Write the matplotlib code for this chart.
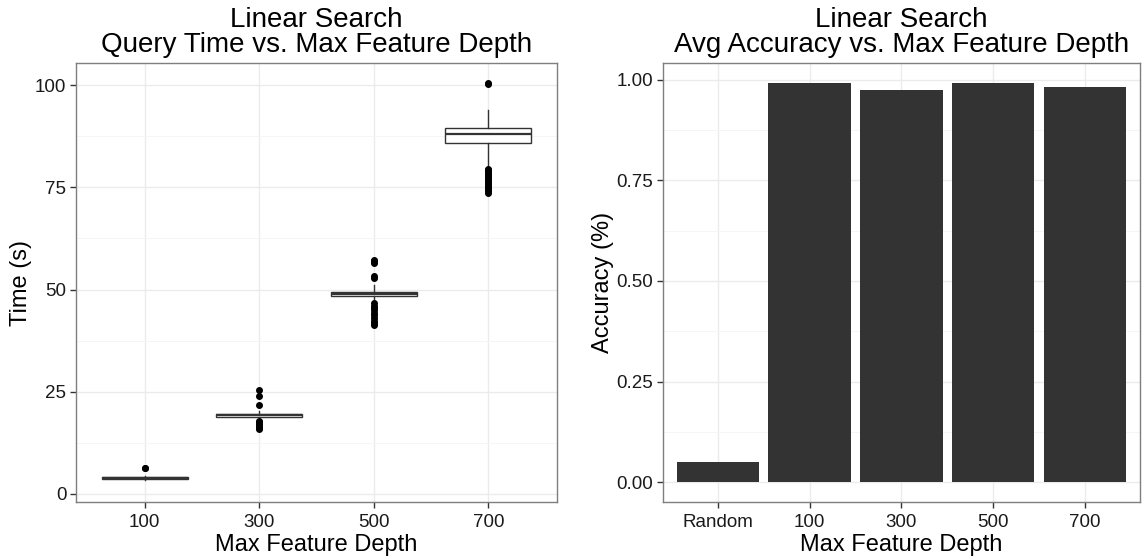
import numpy as np
import matplotlib.pyplot as plt
from matplotlib.ticker import MultipleLocator

plt.rcParams['font.family'] = ['Liberation Sans', 'DejaVu Sans']

# query time box stats per depth
depths = ["100", "300", "500", "700"]
med = [3.9, 19.2, 49.0, 88.0]
q1 = [3.7, 18.9, 48.3, 85.8]
q3 = [4.1, 19.6, 49.5, 89.5]
wlo = [3.5, 18.2, 47.0, 80.0]
whi = [4.4, 20.2, 51.0, 93.9]
fliers = [
    [6.2, 6.4],
    [25.5, 24.0, 21.8, 17.9, 17.5, 17.0, 16.6, 16.2, 15.9],
    [57.3, 56.9, 56.5, 53.2, 52.7, 46.6, 46.0, 45.5, 45.0, 44.3, 43.8, 43.0, 42.4, 41.8, 41.2],
    [100.5, 100.2, 79.6, 79.2, 78.8, 78.4, 78.0, 77.6, 77.2, 76.8, 76.4, 76.0,
     75.6, 75.2, 74.8, 74.4, 74.0, 73.6],
]

# accuracy per depth
acc_labels = ["Random", "100", "300", "500", "700"]
accuracy = [0.051, 0.992, 0.975, 0.992, 0.982]

fig = plt.figure(figsize=(11.48, 5.59), dpi=100)
ax1 = fig.add_axes([0.0662, 0.102, 0.419, 0.785])
ax2 = fig.add_axes([0.5775, 0.102, 0.4155, 0.785])

for ax in (ax1, ax2):
    ax.set_axisbelow(True)
    ax.grid(True, which="major", color="#EBEBEB", lw=1.0)
    ax.grid(True, which="minor", color="#F4F4F4", lw=0.6)
    for s in ax.spines.values():
        s.set_color("#7F7F7F")
        s.set_linewidth(1.0)
    ax.tick_params(axis="both", which="major", labelsize=13.5, colors="#333333",
                   length=4, width=1, pad=3)
    ax.tick_params(axis="x", which="major", pad=5)
    ax.tick_params(axis="both", which="minor", length=0)

stats = []
for i in range(4):
    stats.append(dict(med=med[i], q1=q1[i], q3=q3[i], whislo=wlo[i], whishi=whi[i], fliers=fliers[i]))

ax1.bxp(stats, positions=[1, 2, 3, 4], widths=0.75, patch_artist=True,
        showcaps=False,
        boxprops=dict(facecolor="white", edgecolor="#333333", lw=1.0),
        medianprops=dict(color="#333333", lw=1.6),
        whiskerprops=dict(color="#333333", lw=1.0),
        flierprops=dict(marker="o", markerfacecolor="black", markeredgecolor="black", markersize=4))
ax1.set_xlim(0.4, 4.6)
ax1.set_ylim(-2.0, 105.4)
ax1.set_xticks([1, 2, 3, 4])
ax1.set_xticklabels(depths)
ax1.yaxis.set_major_locator(MultipleLocator(25))
ax1.yaxis.set_minor_locator(MultipleLocator(12.5))
ax1.set_xlabel("Max Feature Depth", fontsize=17, labelpad=2)
ax1.set_ylabel("Time (s)", fontsize=17, labelpad=2)
ax1.set_title("Linear Search\nQuery Time vs. Max Feature Depth", fontsize=20, pad=8, linespacing=0.95)

x = np.arange(len(acc_labels))
ax2.bar(x, accuracy, width=0.9, color="#333333")
ax2.set_xlim(-0.6, 4.6)
ax2.set_ylim(-0.0496, 1.0416)
ax2.set_xticks(x)
ax2.set_xticklabels(acc_labels)
ax2.yaxis.set_major_locator(MultipleLocator(0.25))
ax2.yaxis.set_minor_locator(MultipleLocator(0.125))
ax2.yaxis.set_major_formatter(plt.FuncFormatter(lambda v, p: f"{v:.2f}"))
ax2.set_xlabel("Max Feature Depth", fontsize=17, labelpad=2)
ax2.set_ylabel("Accuracy (%)", fontsize=17, labelpad=2)
ax2.set_title("Linear Search\nAvg Accuracy vs. Max Feature Depth", fontsize=20, pad=8, linespacing=0.95)

for ax in (ax1, ax2):
    for lab in ax.get_xticklabels() + ax.get_yticklabels():
        lab.set_color("#1A1A1A")

fig.savefig("out.png", dpi=100, facecolor="white")
